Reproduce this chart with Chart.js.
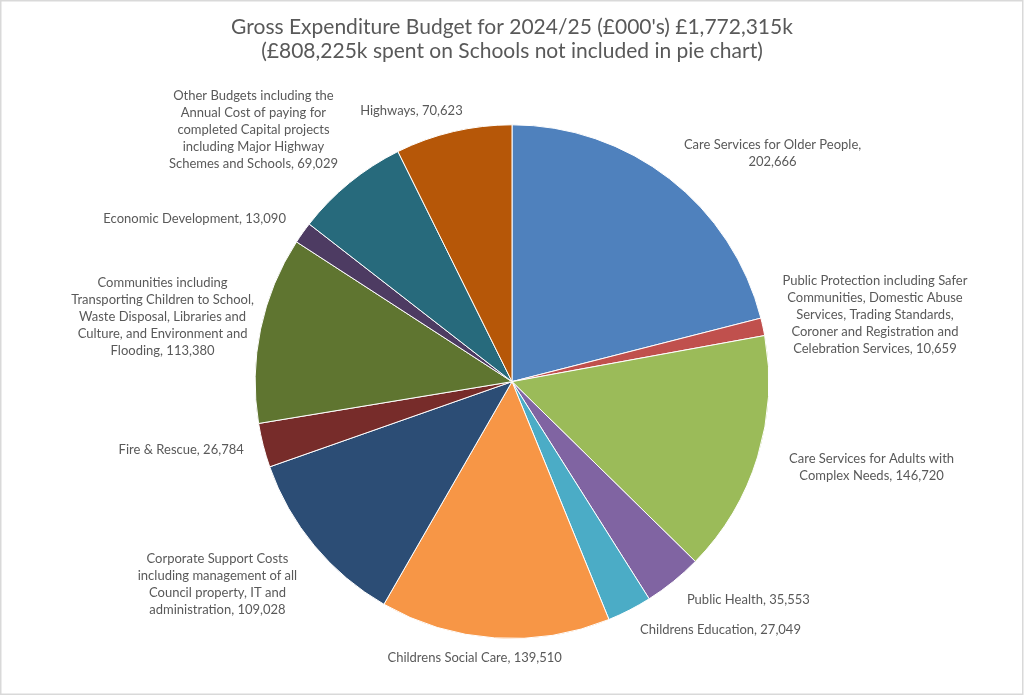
<!DOCTYPE html>
<html>
<head>
<meta charset="utf-8">
<script src="https://cdn.jsdelivr.net/npm/chart.js@4.4.1/dist/chart.umd.min.js"></script>
<style>
    html, body { margin: 0; padding: 0; background: #fff; }
    #wrap { width: 1024px; height: 695px; position: relative; }
</style>
</head>
<body>
<div id="wrap"><canvas id="budgetPie"></canvas></div>
<script>
const categories = [
    'Care Services for Older People',
    'Public Protection including Safer Communities, Domestic Abuse Services, Trading Standards, Coroner and Registration and Celebration Services',
    'Care Services for Adults with Complex Needs',
    'Public Health',
    'Childrens Education',
    'Childrens Social Care',
    'Corporate Support Costs including management of all Council property, IT and administration',
    'Fire & Rescue',
    'Communities including Transporting Children to School, Waste Disposal, Libraries and Culture, and Environment and Flooding',
    'Economic Development',
    'Other Budgets including the Annual Cost of paying for completed Capital projects including Major Highway Schemes and Schools',
    'Highways'
];

const spend = [202666, 10659, 146720, 35553, 27049, 139510, 109028, 26784, 113380, 13090, 69029, 70623];

const sliceColours = ['#4f81bd', '#c0504d', '#9bbb59', '#8064a2', '#4bacc6', '#f79646',
                      '#2c4d75', '#772c2a', '#5f7530', '#4d3b62', '#276a7c', '#b65708'];

// how the data labels wrap, {v} is the value
const labelLines = [
    ['Care Services for Older People,', '{v}'],
    ['Public Protection including Safer', 'Communities, Domestic Abuse', 'Services, Trading Standards,', 'Coroner and Registration and', 'Celebration Services, {v}'],
    ['Care Services for Adults with', 'Complex Needs, {v}'],
    ['Public Health, {v}'],
    ['Childrens Education, {v}'],
    ['Childrens Social Care, {v}'],
    ['Corporate Support Costs', 'including management of all', 'Council property, IT and', 'administration, {v}'],
    ['Fire & Rescue, {v}'],
    ['Communities including', 'Transporting Children to School,', 'Waste Disposal, Libraries and', 'Culture, and Environment and', 'Flooding, {v}'],
    ['Economic Development, {v}'],
    ['Other Budgets including the', 'Annual Cost of paying for', 'completed Capital projects', 'including Major Highway', 'Schemes and Schools, {v}'],
    ['Highways, {v}']
];

// nudge of each label block centre from the slice's outer mid point
const labelNudge = [
    [103, -25], [112, -12], [114, 10], [75, 18], [91, 20], [-20, 20],
    [-97, 38], [-82, 4], [-98, -12], [-108, -14], [-96, -53], [-42, -21]
];

const textGrey = '#595959';
const labelFont = '13px Lato';
const lineGap = 17;

const outsideLabels = {
    id: 'outsideLabels',
    afterDatasetsDraw(chart) {
        const ctx = chart.ctx;
        const meta = chart.getDatasetMeta(0);
        ctx.save();
        ctx.font = labelFont;
        ctx.fillStyle = textGrey;
        ctx.textAlign = 'center';
        ctx.textBaseline = 'middle';
        meta.data.forEach((arc, i) => {
            const p = arc.getProps(['x', 'y', 'startAngle', 'endAngle', 'outerRadius'], true);
            const mid = (p.startAngle + p.endAngle) / 2;
            const ax = p.x + Math.cos(mid) * p.outerRadius + labelNudge[i][0];
            const ay = p.y + Math.sin(mid) * p.outerRadius + labelNudge[i][1];
            const value = spend[i].toLocaleString('en-GB');
            const lines = labelLines[i].map(l => l.replace('{v}', value));
            const top = ay - (lines.length - 1) * lineGap / 2;
            lines.forEach((line, k) => ctx.fillText(line, ax, top + k * lineGap));
        });
        ctx.restore();
    }
};

const frame = {
    id: 'frame',
    beforeDraw(chart) {
        const ctx = chart.ctx;
        ctx.save();
        ctx.fillStyle = '#fff';
        ctx.fillRect(0, 0, chart.width, chart.height);
        ctx.strokeStyle = '#d9d9d9';
        ctx.lineWidth = 1.5;
        ctx.strokeRect(0.75, 0.75, chart.width - 2, chart.height - 1.5);
        ctx.restore();
    }
};

new Chart(document.getElementById('budgetPie'), {
    type: 'pie',
    data: {
        labels: categories,
        datasets: [{
            data: spend,
            backgroundColor: sliceColours,
            borderColor: '#fff',
            borderWidth: 1
        }]
    },
    options: {
        responsive: true,
        maintainAspectRatio: false,
        animation: false,
        layout: {
            padding: { top: 0, bottom: 56, left: 0, right: 0 }
        },
        plugins: {
            legend: { display: false },
            tooltip: { enabled: false },
            title: {
                display: true,
                text: ["Gross Expenditure Budget for 2024/25 (£000's) £1,772,315k",
                       '(£808,225k spent on Schools not included in pie chart)'],
                color: textGrey,
                font: { family: 'Lato', size: 21, weight: 'normal', lineHeight: 1.15 },
                padding: { top: 15, bottom: 61 }
            }
        }
    },
    plugins: [frame, outsideLabels]
});
</script>
</body>
</html>
